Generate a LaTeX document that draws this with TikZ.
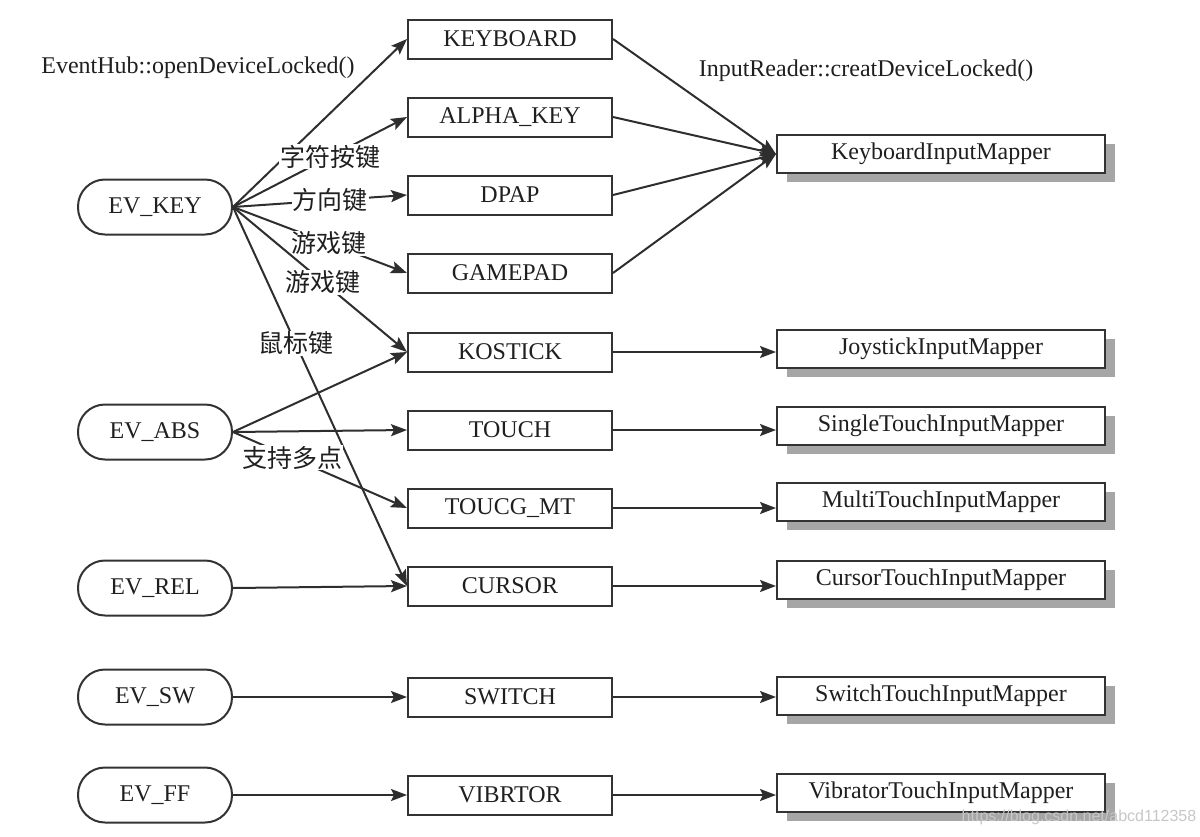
\documentclass[tikz,border=0pt]{standalone}
\usepackage{fontspec}
\setmainfont{Liberation Serif}
\newfontfamily\cjk{Noto Sans CJK SC}
\newfontfamily\wmfont{Liberation Sans}
\usetikzlibrary{arrows.meta,shadows}

\tikzset{
	evbox/.style={draw=black!80, line width=1pt, rounded corners=13.5pt, minimum width=77pt, minimum height=27.5pt, inner sep=0pt, text=black!88, font=\fontsize{12}{14}\selectfont},
	devbox/.style={draw=black!80, line width=1pt, minimum width=102pt, minimum height=19.5pt, inner sep=0pt, text=black!88, font=\fontsize{12}{14}\selectfont},
	mapbox/.style={draw=black!80, fill=white, line width=1pt, minimum width=164pt, minimum height=19pt, inner sep=0pt, text=black!88, font=\fontsize{12}{14}\selectfont, drop shadow={shadow xshift=5pt, shadow yshift=-4.5pt, fill=black!35, opacity=1}},
	conn/.style={-{Stealth[length=8pt,width=6pt,inset=1.5pt]}, draw=black!82, line width=1pt},
	keylbl/.style={fill=white, inner sep=0.5pt, text=black!88, font=\cjk\fontsize{12.5}{14}\selectfont},
	hdr/.style={inner sep=0pt, text=black!88, font=\fontsize{12}{14}\selectfont},
}

\begin{document}
\begin{tikzpicture}[x=0.5pt, y=-0.5pt]
			%%%%% START %%%%%
			\useasboundingbox (0, 0) rectangle (1200, 836);
			
			\node[hdr] (hubtxt) at (198, 68) {EventHub::openDeviceLocked()};
			\node[hdr] (readertxt) at (866, 71) {InputReader::creatDeviceLocked()};
			
			% event types
			\node[evbox] (evkey) at (155, 207) {EV\_KEY};
			\node[evbox] (evabs) at (155, 432) {EV\_ABS};
			\node[evbox] (evrel) at (155, 588) {EV\_REL};
			\node[evbox] (evsw) at (155, 697) {EV\_SW};
			\node[evbox] (evff) at (155, 795) {EV\_FF};
			
			% device classes
			\node[devbox] (keyboard) at (510, 39) {KEYBOARD};
			\node[devbox] (alphakey) at (510, 117) {ALPHA\_KEY};
			\node[devbox] (dpap) at (510, 195) {DPAP};
			\node[devbox] (gamepad) at (510, 273) {GAMEPAD};
			\node[devbox] (kostick) at (510, 352) {KOSTICK};
			\node[devbox] (touch) at (510, 430) {TOUCH};
			\node[devbox] (toucgmt) at (510, 508) {TOUCG\_MT};
			\node[devbox] (cursor) at (510, 586) {CURSOR};
			\node[devbox] (switch) at (510, 697) {SWITCH};
			\node[devbox] (vibrtor) at (510, 795) {VIBRTOR};
			
			% mappers
			\node[mapbox] (kbmap) at (941, 154) {KeyboardInputMapper};
			\node[mapbox] (joymap) at (941, 349) {JoystickInputMapper};
			\node[mapbox] (stmap) at (941, 426) {SingleTouchInputMapper};
			\node[mapbox] (mtmap) at (941, 502) {MultiTouchInputMapper};
			\node[mapbox] (curmap) at (941, 580) {CursorTouchInputMapper};
			\node[mapbox] (swmap) at (941, 696) {SwitchTouchInputMapper};
			\node[mapbox] (vibmap) at (941, 793) {VibratorTouchInputMapper};
			
			% EV_KEY
			\draw[conn] (evkey.east) -- (keyboard.west);
			\draw[conn] (evkey.east) -- node[keylbl, pos=0.56] {字符按键} (alphakey.west);
			\draw[conn] (evkey.east) -- node[keylbl, pos=0.56] {方向键} (dpap.west);
			\draw[conn] (evkey.east) -- node[keylbl, pos=0.55] {游戏键} (gamepad.west);
			\draw[conn] (evkey.east) -- node[keylbl, pos=0.52] {游戏键} (kostick.west);
			\draw[conn] (evkey.east) -- node[keylbl, pos=0.36] {鼠标键} (cursor.west);
			
			% EV_ABS
			\draw[conn] (evabs.east) -- (kostick.west);
			\draw[conn] (evabs.east) -- (touch.west);
			\draw[conn] (evabs.east) -- node[keylbl, pos=0.34] {支持多点} (toucgmt.west);
			
			\draw[conn] (evrel.east) -- (cursor.west);
			\draw[conn] (evsw.east) -- (switch.west);
			\draw[conn] (evff.east) -- (vibrtor.west);
			
			% to mappers
			\draw[conn] (keyboard.east) -- (kbmap.west);
			\draw[conn] (alphakey.east) -- (kbmap.west);
			\draw[conn] (dpap.east) -- (kbmap.west);
			\draw[conn] (gamepad.east) -- (kbmap.west);
			\draw[conn] (kostick.east) -- (kostick.east -| joymap.west);
			\draw[conn] (touch.east) -- (touch.east -| stmap.west);
			\draw[conn] (toucgmt.east) -- (toucgmt.east -| mtmap.west);
			\draw[conn] (cursor.east) -- (cursor.east -| curmap.west);
			\draw[conn] (switch.east) -- (switch.east -| swmap.west);
			\draw[conn] (vibrtor.east) -- (vibrtor.east -| vibmap.west);
			
			\node[inner sep=0pt, text=black!22, font=\wmfont\fontsize{8}{9}\selectfont] (wmark) at (1079, 817) {https://blog.csdn.net/abcd112358};
			
			%%%%% END %%%%%
\end{tikzpicture}
\end{document}
